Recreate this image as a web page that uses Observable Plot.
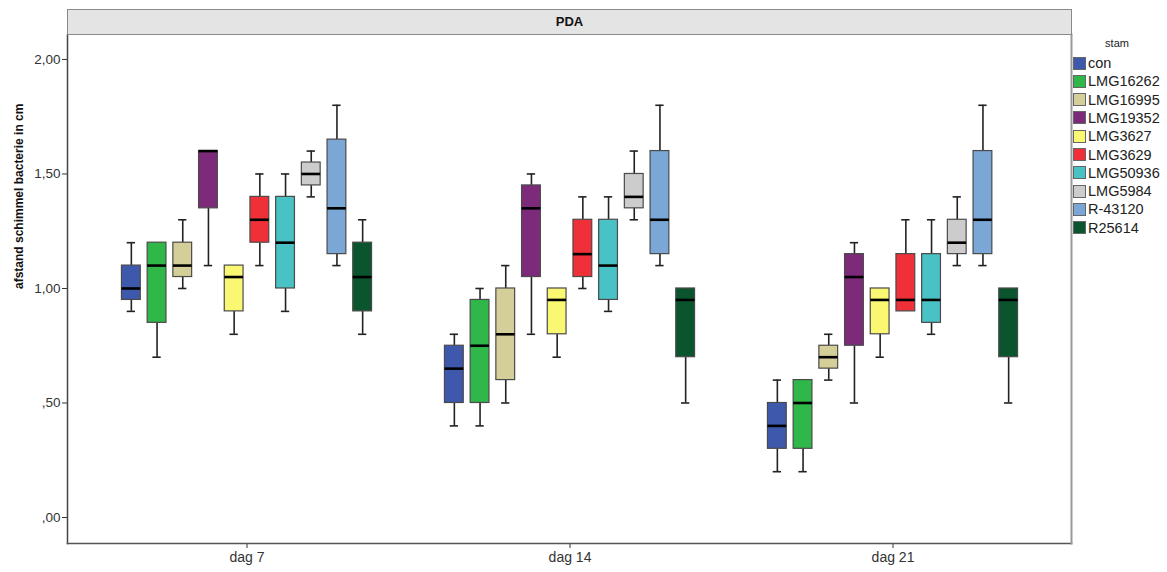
<!DOCTYPE html>
<html>
<head>
<meta charset="utf-8">
<script src="https://cdn.jsdelivr.net/npm/d3@7"></script>
<script src="https://cdn.jsdelivr.net/npm/@observablehq/plot@0.6"></script>
<style>
  body { margin: 0; background: #fff; font-family: "Liberation Sans", Arial, sans-serif; }
  #wrap { position: relative; width: 1167px; height: 572px; }
  #panel {
    position: absolute; left: 67px; top: 9px; width: 1005px; height: 26px;
    box-sizing: border-box; background: #e4e4e4; border: 1px solid #8a8a8a;
    font-weight: bold; font-size: 13px; text-align: center; line-height: 24px; color: #111;
  }
  #legend { position: absolute; left: 1073px; top: 34px; }
  #legend .title { position: absolute; left: 0; width: 88px; top: 3px; font-size: 11px; text-align: center; color: #222; }
  #legend .item { position: absolute; left: 0; height: 16px; display: flex; align-items: center; white-space: nowrap; }
  #legend .sw { width: 13px; height: 13px; box-sizing: border-box; border: 1px solid #666; margin-right: 2px; }
  #legend .lab { font-size: 14.5px; color: #222; }
</style>
</head>
<body>
<div id="wrap">
  <div id="chart"></div>
  <div id="panel">PDA</div>
  <div id="legend"></div>
</div>
<script>
// Groups on the x axis and the strains (stam) drawn in each group
const days = ["dag 7", "dag 14", "dag 21"];
const strains = ["con", "LMG16262", "LMG16995", "LMG19352", "LMG3627", "LMG3629", "LMG50936", "LMG5984", "R-43120", "R25614"];
const strainColors = ["#3e58ac", "#2fb74a", "#d4cf98", "#7e2a7b", "#faf873", "#ef3039", "#49c2c6", "#cccccc", "#7aa7d6", "#0b552e"];

// Box statistics per strain: [lower whisker, Q1, median, Q3, upper whisker]
const dag7 = [
  [0.90, 0.95, 1.00, 1.10, 1.20],
  [0.70, 0.85, 1.10, 1.20, 1.20],
  [1.00, 1.05, 1.10, 1.20, 1.30],
  [1.10, 1.35, 1.60, 1.60, 1.60],
  [0.80, 0.90, 1.05, 1.10, 1.10],
  [1.10, 1.20, 1.30, 1.40, 1.50],
  [0.90, 1.00, 1.20, 1.40, 1.50],
  [1.40, 1.45, 1.50, 1.55, 1.60],
  [1.10, 1.15, 1.35, 1.65, 1.80],
  [0.80, 0.90, 1.05, 1.20, 1.30]
];
const dag14 = [
  [0.40, 0.50, 0.65, 0.75, 0.80],
  [0.40, 0.50, 0.75, 0.95, 1.00],
  [0.50, 0.60, 0.80, 1.00, 1.10],
  [0.80, 1.05, 1.35, 1.45, 1.50],
  [0.70, 0.80, 0.95, 1.00, 1.00],
  [1.00, 1.05, 1.15, 1.30, 1.40],
  [0.90, 0.95, 1.10, 1.30, 1.40],
  [1.30, 1.35, 1.40, 1.50, 1.60],
  [1.10, 1.15, 1.30, 1.60, 1.80],
  [0.50, 0.70, 0.95, 1.00, 1.00]
];
const dag21 = [
  [0.20, 0.30, 0.40, 0.50, 0.60],
  [0.20, 0.30, 0.50, 0.60, 0.60],
  [0.60, 0.65, 0.70, 0.75, 0.80],
  [0.50, 0.75, 1.05, 1.15, 1.20],
  [0.70, 0.80, 0.95, 1.00, 1.00],
  [0.90, 0.90, 0.95, 1.15, 1.30],
  [0.80, 0.85, 0.95, 1.15, 1.30],
  [1.10, 1.15, 1.20, 1.30, 1.40],
  [1.10, 1.15, 1.30, 1.60, 1.80],
  [0.50, 0.70, 0.95, 1.00, 1.00]
];
const yTicks = [0, 0.5, 1, 1.5, 2];
const yLabel = "afstand schimmel bacterie in cm";

// Table built from the arrays above
const dayStats = [dag7, dag14, dag21];
const rows = days.flatMap((day, d) => dayStats[d].map(([lo, q1, med, q3, hi], i) => ({
  day, strain: strains[i], lo, q1, med, q3, hi
})));

// Layout
const width = 1167, height = 572;
const marginLeft = 67, marginRight = 96, marginTop = 34, marginBottom = 29;
const padOuter = 0.0508;
const step = (width - marginLeft - marginRight) / (days.length + 2 * padOuter);
const innerStep = 25.7, boxWidth = 19.5, capWidth = 9;
const boxInset = (step - boxWidth) / 2;
const capInset = (step - capWidth) / 2;

const fmt = (v) => v.toFixed(2).replace(".", ",").replace(/^0,/, ",");

const marks = [];
strains.forEach((s, i) => {
  const sub = rows.filter((r) => r.strain === s);
  const dx = (i - (strains.length - 1) / 2) * innerStep;
  const color = strainColors[i];
  marks.push(
    Plot.ruleX(sub.filter((r) => r.hi > r.q3), {x: "day", y1: "q3", y2: "hi", dx, stroke: "#222", strokeWidth: 1.6}),
    Plot.ruleX(sub.filter((r) => r.lo < r.q1), {x: "day", y1: "lo", y2: "q1", dx, stroke: "#222", strokeWidth: 1.6}),
    Plot.tickY(sub.filter((r) => r.hi > r.q3), {x: "day", y: "hi", dx, insetLeft: capInset, insetRight: capInset, stroke: "#222", strokeWidth: 1.6}),
    Plot.tickY(sub.filter((r) => r.lo < r.q1), {x: "day", y: "lo", dx, insetLeft: capInset, insetRight: capInset, stroke: "#222", strokeWidth: 1.6}),
    Plot.barY(sub, {x: "day", y1: "q1", y2: "q3", dx, insetLeft: boxInset, insetRight: boxInset, fill: color, stroke: "#4a4a4a", strokeWidth: 1.2}),
    Plot.tickY(sub, {x: "day", y: "med", dx, insetLeft: boxInset, insetRight: boxInset, stroke: "#000", strokeWidth: 2.6})
  );
});

const chart = Plot.plot({
  width, height, marginLeft, marginRight, marginTop, marginBottom,
  style: {fontFamily: "Liberation Sans, Arial, sans-serif", fontSize: "13px", color: "#333", background: "#fff"},
  x: {type: "band", domain: days, paddingInner: 0, paddingOuter: padOuter},
  y: {domain: [-0.1135, 2.109]},
  marks: [
    Plot.axisY({ticks: yTicks, tickFormat: fmt, tickSize: 5, tickPadding: 2, label: null, fontSize: 13.5}),
    Plot.axisX({tickSize: 5, tickPadding: 4, label: null, fontSize: 14}),
    Plot.text([yLabel], {frameAnchor: "left", rotate: -90, dx: -48, fontWeight: "bold", fontSize: 12, fill: "#111"}),
    ...marks,
    Plot.frame({anchor: "left", stroke: "#444", strokeWidth: 1.5}),
    Plot.frame({anchor: "bottom", stroke: "#555", strokeWidth: 1.5}),
    Plot.frame({anchor: "right", stroke: "#999", strokeWidth: 2})
  ]
});
document.getElementById("chart").appendChild(chart);

// Legend for the strains
const legend = document.getElementById("legend");
const title = document.createElement("div");
title.className = "title";
title.textContent = "stam";
legend.appendChild(title);
strains.forEach((s, i) => {
  const item = document.createElement("div");
  item.className = "item";
  item.style.top = (21 + i * 18.3) + "px";
  const sw = document.createElement("div");
  sw.className = "sw";
  sw.style.background = strainColors[i];
  const lab = document.createElement("span");
  lab.className = "lab";
  lab.textContent = s;
  item.appendChild(sw);
  item.appendChild(lab);
  legend.appendChild(item);
});
</script>
</body>
</html>
